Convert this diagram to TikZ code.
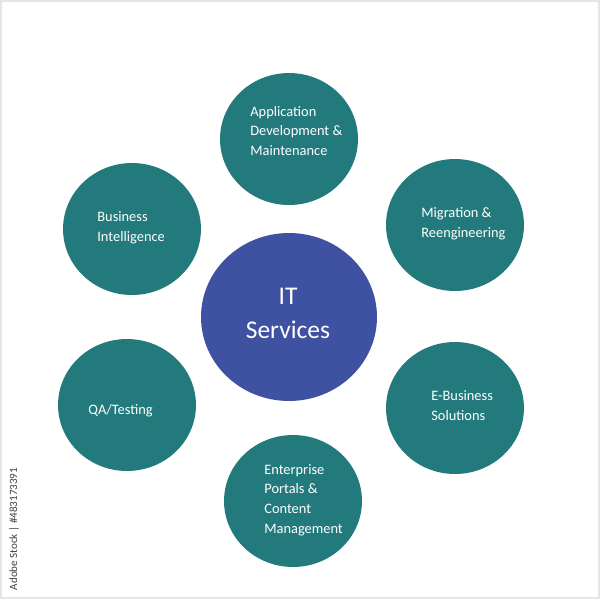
\documentclass[tikz,border=0pt]{standalone}
\usepackage{fontspec}
\setmainfont{Carlito}
\usetikzlibrary{shapes.geometric}
\definecolor{tealfill}{HTML}{237A7D}
\definecolor{bluefill}{HTML}{3F52A2}
\begin{document}
\begin{tikzpicture}[x=0.02cm, y=-0.02cm,
    every node/.style={inner sep=0pt},
    smallball/.style={ellipse, fill=tealfill, minimum width=2.76cm, minimum height=2.64cm},
    bigball/.style={ellipse, fill=bluefill, minimum width=3.52cm, minimum height=3.36cm},
    balltext/.style={text=white, font=\fontsize{8.2}{11.2}\selectfont, align=left, anchor=west}]

    % page frame
    \useasboundingbox (0,0) rectangle (600,600);
    \draw[gray!20, line width=0.6pt] (1,1) rectangle (599,598);

    % centre
    \node[bigball] (services) at (289,317) {};
    \node[text=white, font=\fontsize{14.5}{19.4}\selectfont, align=center] (servicestext) at (288,313) {IT\\Services};

    % outer balls
    \foreach \name/\x/\y/\tx/\ty/\txt in {
        application/289/139/250/131/{Application\\Development \&\\Maintenance},
        migration/455/225/421/224/{Migration \&\\Reengineering},
        ebusiness/455/408/431/405.5/{E-Business\\Solutions},
        enterprise/293/501/264/500/{Enterprise\\Portals \&\\Content\\Management},
        testing/127/405/88/411/{QA/Testing},
        intelligence/132/229/97/228/{Business\\Intelligence}} {
        \node[smallball] (\name) at (\x,\y) {};
        \node[balltext] (\name text) at (\tx,\ty) {\txt};
    }

    % stock line
    \node[rotate=90, font=\fontsize{6.3}{8}\selectfont, text=black!75] (stock) at (14,529) {Adobe Stock | \#483173391};

\end{tikzpicture}
\end{document}
